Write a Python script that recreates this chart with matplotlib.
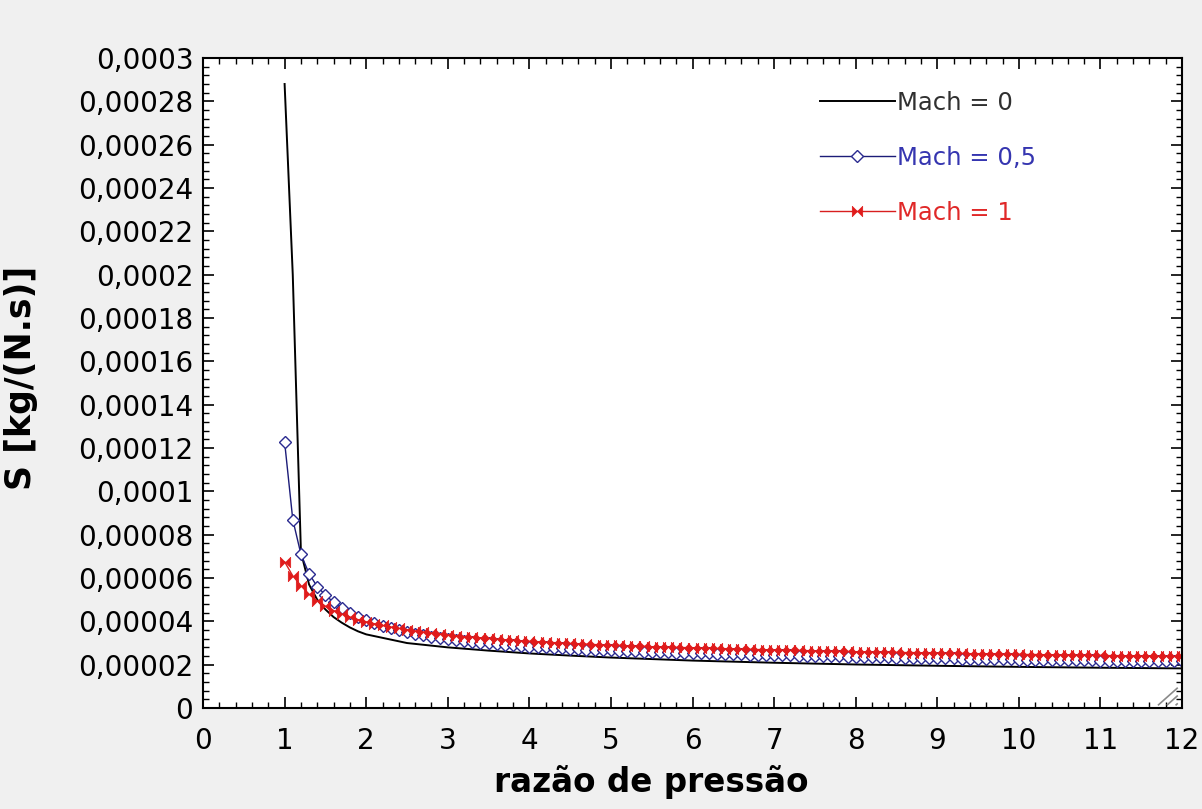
import matplotlib
matplotlib.use("Agg")
import matplotlib.pyplot as plt
from matplotlib.path import Path
from matplotlib.ticker import MultipleLocator, FuncFormatter
import numpy as np

plt.rcParams['font.family'] = ['DejaVu Sans']

# pressure ratio samples (0.1 step) used by the Mach 0.5 and Mach 1 runs
razao = [
    1.0, 1.1, 1.2, 1.3, 1.4, 1.5, 1.6, 1.7, 1.8, 1.9,
    2.0, 2.1, 2.2, 2.3, 2.4, 2.5, 2.6, 2.7, 2.8, 2.9,
    3.0, 3.1, 3.2, 3.3, 3.4, 3.5, 3.6, 3.7, 3.8, 3.9,
    4.0, 4.1, 4.2, 4.3, 4.4, 4.5, 4.6, 4.7, 4.8, 4.9,
    5.0, 5.1, 5.2, 5.3, 5.4, 5.5, 5.6, 5.7, 5.8, 5.9,
    6.0, 6.1, 6.2, 6.3, 6.4, 6.5, 6.6, 6.7, 6.8, 6.9,
    7.0, 7.1, 7.2, 7.3, 7.4, 7.5, 7.6, 7.7, 7.8, 7.9,
    8.0, 8.1, 8.2, 8.3, 8.4, 8.5, 8.6, 8.7, 8.8, 8.9,
    9.0, 9.1, 9.2, 9.3, 9.4, 9.5, 9.6, 9.7, 9.8, 9.9,
    10.0, 10.1, 10.2, 10.3, 10.4, 10.5, 10.6, 10.7, 10.8, 10.9,
    11.0, 11.1, 11.2, 11.3, 11.4, 11.5, 11.6, 11.7, 11.8, 11.9,
    12.0,
]

# S in 1e-6 kg/(N.s)
s_mach05 = [
    122.8, 87.0, 71.0, 62.0, 56.0, 52.2, 48.8, 46.0, 43.8, 42.0,
    40.5, 39.1, 37.9, 36.8, 35.9, 35.0, 34.2, 33.5, 32.9, 32.3,
    31.8, 31.3, 30.9, 30.5, 30.1, 29.8, 29.5, 29.2, 28.9, 28.6,
    28.4, 28.2, 28.0, 27.8, 27.6, 27.4, 27.2, 27.0, 26.9, 26.7,
    26.6, 26.4, 26.3, 26.2, 26.0, 25.9, 25.8, 25.7, 25.6, 25.5,
    25.4, 25.3, 25.2, 25.1, 25.0, 24.9, 24.8, 24.7, 24.6, 24.5,
    24.4, 24.3, 24.3, 24.2, 24.1, 24.0, 24.0, 23.9, 23.8, 23.7,
    23.7, 23.6, 23.5, 23.5, 23.4, 23.3, 23.3, 23.2, 23.1, 23.1,
    23.0, 22.9, 22.9, 22.8, 22.8, 22.7, 22.6, 22.6, 22.5, 22.5,
    22.4, 22.4, 22.3, 22.3, 22.2, 22.2, 22.1, 22.1, 22.0, 22.0,
    21.9, 21.9, 21.8, 21.8, 21.7, 21.7, 21.6, 21.6, 21.6, 21.5,
    21.5,
]

s_mach1 = [
    67.5, 61.0, 56.5, 52.5, 49.5, 47.0, 45.0, 43.4, 42.0, 40.8,
    39.8, 38.9, 38.1, 37.4, 36.8, 36.2, 35.6, 35.1, 34.6, 34.2,
    33.8, 33.4, 33.0, 32.7, 32.4, 32.1, 31.8, 31.5, 31.3, 31.0,
    30.8, 30.6, 30.4, 30.2, 30.0, 29.8, 29.6, 29.5, 29.3, 29.1,
    29.0, 28.9, 28.7, 28.6, 28.5, 28.3, 28.2, 28.1, 28.0, 27.9,
    27.8, 27.7, 27.6, 27.5, 27.4, 27.3, 27.2, 27.1, 27.0, 26.9,
    26.8, 26.7, 26.6, 26.6, 26.5, 26.4, 26.3, 26.3, 26.2, 26.1,
    26.0, 26.0, 25.9, 25.8, 25.8, 25.7, 25.6, 25.6, 25.5, 25.4,
    25.4, 25.3, 25.3, 25.2, 25.1, 25.1, 25.0, 25.0, 24.9, 24.9,
    24.8, 24.7, 24.7, 24.6, 24.6, 24.5, 24.5, 24.4, 24.4, 24.3,
    24.3, 24.2, 24.2, 24.1, 24.1, 24.0, 24.0, 23.9, 23.9, 23.8,
    23.8,
]

# Mach 0 run, no markers
razao_m0 = [1.0, 1.1, 1.2, 1.3, 1.4, 1.5, 1.6, 1.7, 1.8, 1.9, 2.0,
            2.5, 3.0, 3.5, 4.0, 4.5, 5.0, 6.0, 7.0, 8.0, 9.0, 10.0,
            11.0, 12.0]
s_mach0 = [288.0, 200.0, 72.0, 57.0, 50.0, 45.5, 42.0, 39.4, 37.2, 35.4,
           34.0, 30.0, 28.0, 26.5, 25.2, 24.2, 23.3, 21.9, 20.9, 20.1,
           19.5, 19.0, 18.6, 18.3]

legend_labels = ['Mach = 0', 'Mach = 0,5', 'Mach = 1']

scale = 1e-6

# bow-tie marker: two filled triangles meeting at the centre
bowtie = Path(
    [(-1, 1), (-1, -1), (0, 0), (-1, 1), (1, 1), (1, -1), (0, 0), (1, 1)],
    [Path.MOVETO, Path.LINETO, Path.LINETO, Path.CLOSEPOLY,
     Path.MOVETO, Path.LINETO, Path.LINETO, Path.CLOSEPOLY])

fig = plt.figure(figsize=(12.02, 8.09), dpi=100)
fig.patch.set_facecolor('#f0f0f0')
ax = fig.add_axes([0.1689, 0.1248, 0.8145, 0.8035])
ax.set_facecolor('white')

ax.plot(razao_m0, np.array(s_mach0) * scale, color='black', lw=1.4,
        label=legend_labels[0])
ax.plot(razao, np.array(s_mach05) * scale, color='#1c1c78', lw=1.0,
        marker='D', ms=6.2, mfc='white', mec='#2a2a90', mew=1.0,
        label=legend_labels[1])
ax.plot(razao, np.array(s_mach1) * scale, color='#d81e1e', lw=1.0,
        marker=bowtie, ms=7.5, mfc='#e01b1b', mec='#e01b1b', mew=0.5,
        label=legend_labels[2])

ax.set_xlim(0, 12)
ax.set_ylim(0, 0.0003)
ax.xaxis.set_major_locator(MultipleLocator(1))
ax.xaxis.set_minor_locator(MultipleLocator(0.2))
ax.yaxis.set_major_locator(MultipleLocator(0.00002))
ax.yaxis.set_minor_locator(MultipleLocator(0.000004))


def virgula(v, pos):
    txt = f"{v:.6f}".rstrip('0').rstrip('.')
    return txt.replace('.', ',')


ax.yaxis.set_major_formatter(FuncFormatter(virgula))
ax.xaxis.set_major_formatter(FuncFormatter(lambda v, pos: f"{v:.0f}"))

ax.tick_params(which='both', direction='in', top=True, right=True,
               labelsize=20, color='black')
ax.tick_params(axis='x', pad=14)
ax.tick_params(axis='y', pad=7)
ax.tick_params(which='major', length=8, width=1.2)
ax.tick_params(which='minor', length=4, width=1.0)
for sp in ax.spines.values():
    sp.set_linewidth(1.5)

ax.set_xlabel('razão de pressão', fontsize=23.5, fontweight='bold')
ax.set_ylabel('S [kg/(N.s)]', fontsize=25, fontweight='bold')
ax.xaxis.set_label_coords(0.4576, -0.088)
ax.yaxis.set_label_coords(-0.1685, 0.508)

leg = ax.legend(loc='upper left', bbox_to_anchor=(0.630, 0.950), frameon=False,
                fontsize=17.5, handlelength=3.1, handletextpad=0.08,
                borderpad=0, borderaxespad=0, labelspacing=1.28,
                labelcolor=['#303030', '#3535b0', '#e02828'])

# window resize grip in the lower right corner
for k in range(3):
    d = 0.006 + 0.009 * k
    ax.plot([1 - d, 0.995], [0.005, 0.005 + (d - 0.005) * 1.34],
            transform=ax.transAxes, color='#8a8a8a', lw=1.2, clip_on=False)

fig.savefig('out.png', dpi=100, facecolor=fig.get_facecolor())
